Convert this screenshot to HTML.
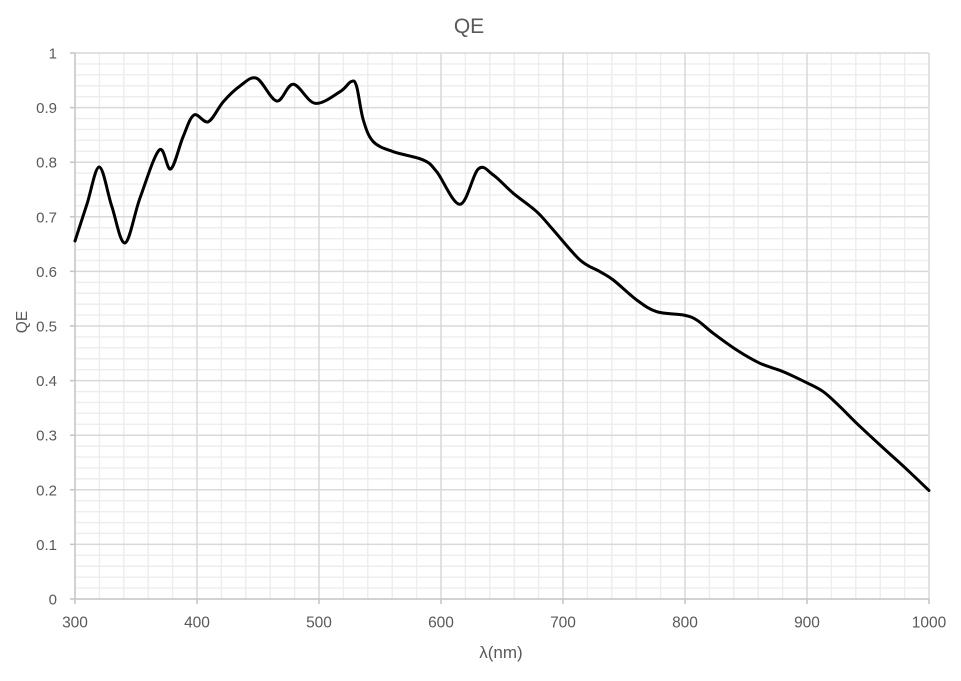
<!DOCTYPE html>
<html>
<head>
<meta charset="utf-8">
<style>
html,body{margin:0;padding:0;background:#fff;}
svg{display:block;}
text{font-family:"Liberation Sans",sans-serif;fill:#595959;}
</style>
</head>
<body>
<svg width="961" height="681" viewBox="0 0 961 681" xmlns="http://www.w3.org/2000/svg">
<rect width="961" height="681" fill="#fff"/>
<!-- minor horizontal grid -->
<path stroke="#ededed" stroke-width="1.4" fill="none" d="M75 588.08H929M75 577.16H929M75 566.24H929M75 555.32H929M75 533.48H929M75 522.56H929M75 511.64H929M75 500.72H929M75 478.88H929M75 467.96H929M75 457.04H929M75 446.12H929M75 424.28H929M75 413.36H929M75 402.44H929M75 391.52H929M75 369.68H929M75 358.76H929M75 347.84H929M75 336.92H929M75 315.08H929M75 304.16H929M75 293.24H929M75 282.32H929M75 260.48H929M75 249.56H929M75 238.64H929M75 227.72H929M75 205.88H929M75 194.96H929M75 184.04H929M75 173.12H929M75 151.28H929M75 140.36H929M75 129.44H929M75 118.52H929M75 96.68H929M75 85.76H929M75 74.84H929M75 63.92H929"/>
<!-- minor vertical grid -->
<path stroke="#ededed" stroke-width="1.4" fill="none" d="M99.4 53V599M123.8 53V599M148.2 53V599M172.6 53V599M221.4 53V599M245.8 53V599M270.2 53V599M294.6 53V599M343.4 53V599M367.8 53V599M392.2 53V599M416.6 53V599M465.4 53V599M489.8 53V599M514.2 53V599M538.6 53V599M587.4 53V599M611.8 53V599M636.2 53V599M660.6 53V599M709.4 53V599M733.8 53V599M758.2 53V599M782.6 53V599M831.4 53V599M855.8 53V599M880.2 53V599M904.6 53V599"/>
<!-- major grid -->
<path stroke="#d9d9d9" stroke-width="1.5" fill="none" d="M75 544.4H929M75 489.8H929M75 435.2H929M75 380.6H929M75 326H929M75 271.4H929M75 216.8H929M75 162.2H929M75 107.6H929M75 53H929M197 53V599M319 53V599M441 53V599M563 53V599M685 53V599M807 53V599M929 53V599"/>
<!-- axes and ticks -->
<path stroke="#c4c4c4" stroke-width="1.5" fill="none" d="M75 53V604M70 599H929M70 544.4H75M70 489.8H75M70 435.2H75M70 380.6H75M70 326H75M70 271.4H75M70 216.8H75M70 162.2H75M70 107.6H75M70 53H75M197 599V604M319 599V604M441 599V604M563 599V604M685 599V604M807 599V604M929 599V604"/>

<!-- y tick labels -->
<g font-size="15" text-anchor="end">
<text x="57" y="604.5">0</text>
<text x="57" y="549.9">0.1</text>
<text x="57" y="495.3">0.2</text>
<text x="57" y="440.7">0.3</text>
<text x="57" y="386.1">0.4</text>
<text x="57" y="331.5">0.5</text>
<text x="57" y="276.9">0.6</text>
<text x="57" y="222.3">0.7</text>
<text x="57" y="167.7">0.8</text>
<text x="57" y="113.1">0.9</text>
<text x="57" y="58.5">1</text>
</g>
<!-- x tick labels -->
<g font-size="15.5" text-anchor="middle">
<text x="75" y="627.5">300</text>
<text x="197" y="627.5">400</text>
<text x="319" y="627.5">500</text>
<text x="441" y="627.5">600</text>
<text x="563" y="627.5">700</text>
<text x="685" y="627.5">800</text>
<text x="807" y="627.5">900</text>
<text x="929" y="627.5">1000</text>
</g>
<!-- titles -->
<text x="469" y="33" font-size="21" text-anchor="middle">QE</text>
<text x="501" y="658" font-size="17" text-anchor="middle">λ(nm)</text>
<text transform="translate(27,322) rotate(-90)" font-size="15.5" text-anchor="middle">QE</text>

<!-- curve -->
<path id="curve" stroke="#000" stroke-width="3" fill="none" stroke-linejoin="round" stroke-linecap="round"
d="M75 241L87 204L99.3 167L111.7 206L125 243L140 198L159.3 150L170.7 169L183 137L194 115L208.3 121.7L223.3 101.7L240 86L256.7 78.3L276.7 101L293.3 84.3L315 103.3L340 91.7L351 81.7L356.5 86L363.3 120L373.3 141.7L393.3 151.7L423.3 160L436.7 171.7L460 204.3L478.3 169L493.3 175L513.3 193.3L536.7 211.7L553.3 230L580 260L600 271.7L613.3 280L636.7 300L656.7 311.7L683.3 315L696.7 320L713.3 333.3L736.7 350L760 363.3L783.3 371.7L806.7 382.7L823.3 391.7L840 406.7L856.7 423.3L880 445L906.7 469.3L929 490.5"/>
</svg>
<script>
(function(){
var p=[[75,241],[87,204],[99.3,167],[111.7,206],[125,243],[140,198],[159.3,150],[170.7,169],[183,137],[194,115],[208.3,121.7],[223.3,101.7],[240,86],[256.7,78.3],[276.7,101],[293.3,84.3],[315,103.3],[340,91.7],[351,81.7],[356.5,86],[363.3,120],[373.3,141.7],[393.3,151.7],[423.3,160],[436.7,171.7],[460,204.3],[478.3,169],[493.3,175],[513.3,193.3],[536.7,211.7],[553.3,230],[580,260],[600,271.7],[613.3,280],[636.7,300],[656.7,311.7],[683.3,315],[696.7,320],[713.3,333.3],[736.7,350],[760,363.3],[783.3,371.7],[806.7,382.7],[823.3,391.7],[840,406.7],[856.7,423.3],[880,445],[906.7,469.3],[929,490.5]];
var d="M"+p[0][0]+" "+p[0][1];
for(var i=0;i<p.length-1;i++){
var a=p[i-1]||p[i],b=p[i],c=p[i+1],e=p[i+2]||c;
var c1x=b[0]+(c[0]-a[0])/6,c1y=b[1]+(c[1]-a[1])/6;
var c2x=c[0]-(e[0]-b[0])/6,c2y=c[1]-(e[1]-b[1])/6;
d+="C"+c1x.toFixed(2)+" "+c1y.toFixed(2)+" "+c2x.toFixed(2)+" "+c2y.toFixed(2)+" "+c[0]+" "+c[1];
}
document.getElementById("curve").setAttribute("d",d);
})();
</script>
</body>
</html>
